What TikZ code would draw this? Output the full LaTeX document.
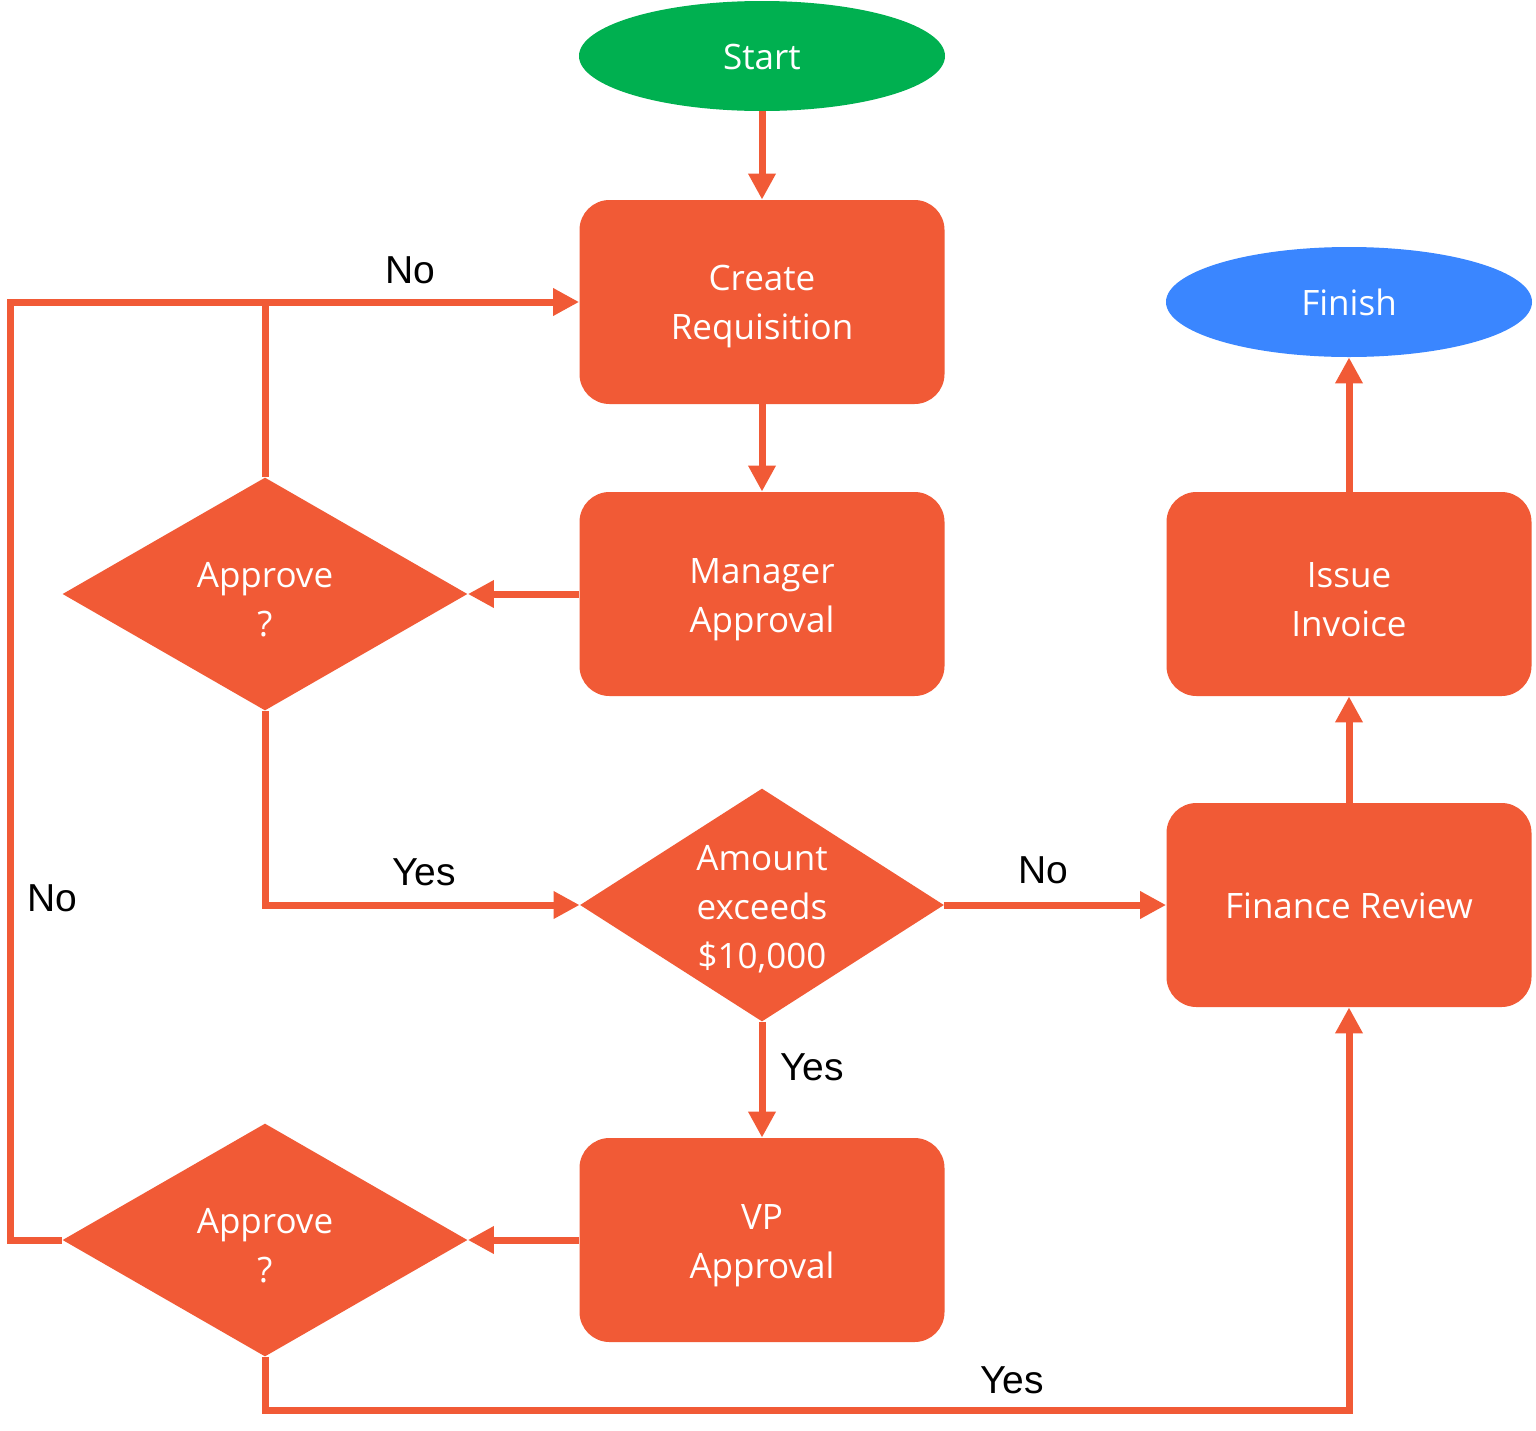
\documentclass[tikz,border=0pt]{standalone}
\usepackage{fontspec}
\setmainfont{Open Sans}
\newfontfamily\labelfont{Liberation Sans}
\usetikzlibrary{shapes.geometric,arrows.meta}
\definecolor{flowor}{HTML}{F15A36}
\definecolor{flowgreen}{HTML}{00B050}
\definecolor{flowblue}{HTML}{3A86FF}
\begin{document}
\begin{tikzpicture}[x=0.5pt,y=-0.5pt,
  boxnode/.style={rectangle,rounded corners=15pt,fill=flowor,minimum width=182.5pt,minimum height=102pt,inner sep=0pt},
  decnode/.style={diamond,fill=flowor,minimum width=202.5pt,minimum height=116.5pt,inner sep=0pt},
  ovalnode/.style={ellipse,minimum width=183pt,minimum height=55pt,inner sep=0pt},
  txt/.style={text=white,align=center,font=\fontsize{17.5}{24.5}\selectfont,inner sep=0pt},
  lbl/.style={text=black,font=\labelfont\fontsize{19.5}{22}\selectfont,inner sep=0pt},
  conn/.style={draw=flowor,line width=3.5pt,-{Triangle[length=13pt,width=13pt]}},
  rail/.style={draw=flowor,line width=3.5pt}]
\useasboundingbox[fill=white] (0,0) rectangle (1536,1430);
% nodes
\node[ovalnode,fill=flowgreen] (start) at (762,56) {};
\node[txt] (starttxt) at (762,57) {Start};
\node[boxnode] (create) at (762,302) {};
\node[txt] (createtxt) at (762,307) {Create\\Requisition};
\node[boxnode] (manager) at (762,594) {};
\node[txt] (managertxt) at (762,600) {Manager\\Approval};
\node[decnode] (d1) at (265,594) {};
\node[txt] (d1txt) at (265,600) {Approve\\?};
\node[decnode,minimum width=182pt] (amount) at (762,905) {};
\node[txt] (amounttxt) at (762,909) {Amount\\exceeds\\\$10,000};
\node[boxnode] (vp) at (762,1240) {};
\node[txt] (vptxt) at (762,1246) {VP\\Approval};
\node[decnode] (d2) at (265,1240) {};
\node[txt] (d2txt) at (265,1246) {Approve\\?};
\node[ovalnode,fill=flowblue] (finish) at (1349,302) {};
\node[txt] (finishtxt) at (1349,302) {Finish};
\node[boxnode] (issue) at (1349,594) {};
\node[txt] (issuetxt) at (1349,600) {Issue\\Invoice};
\node[boxnode] (finance) at (1349,905) {};
\node[txt] (financetxt) at (1349,906) {Finance Review};
% rail coordinates
\coordinate (leftrail) at (10,0);
\coordinate (bottomrail) at (0,1410);
% connectors
\draw[conn] (start) -- (create);
\draw[conn] (create) -- (manager);
\draw[conn] (manager) -- (d1.east);
\draw[conn] (d1.north) |- (create.west);
\draw[conn] (d1.south) |- (amount.west);
\draw[conn] (amount.east) -- (finance.west);
\draw[conn] (amount.south) -- (vp.north);
\draw[conn] (vp.west) -- (d2.east);
\draw[rail,line join=miter] (d2.west) -| (leftrail |- create.west) -- (d1.north |- create.west);
\draw[conn,line join=miter] (d2.south) -- (d2.south |- bottomrail) -| (finance.south);
\draw[conn] (finance.north) -- (issue.south);
\draw[conn] (issue.north) -- (finish.south);
% labels
\node[lbl] (lno1) at (410,270) {No};
\node[lbl] (lyes1) at (424,872) {Yes};
\node[lbl] (lno2) at (1043,870) {No};
\node[lbl] (lyes2) at (812,1067) {Yes};
\node[lbl] (lno3) at (52,898) {No};
\node[lbl] (lyes3) at (1012,1380) {Yes};
\end{tikzpicture}
\end{document}
